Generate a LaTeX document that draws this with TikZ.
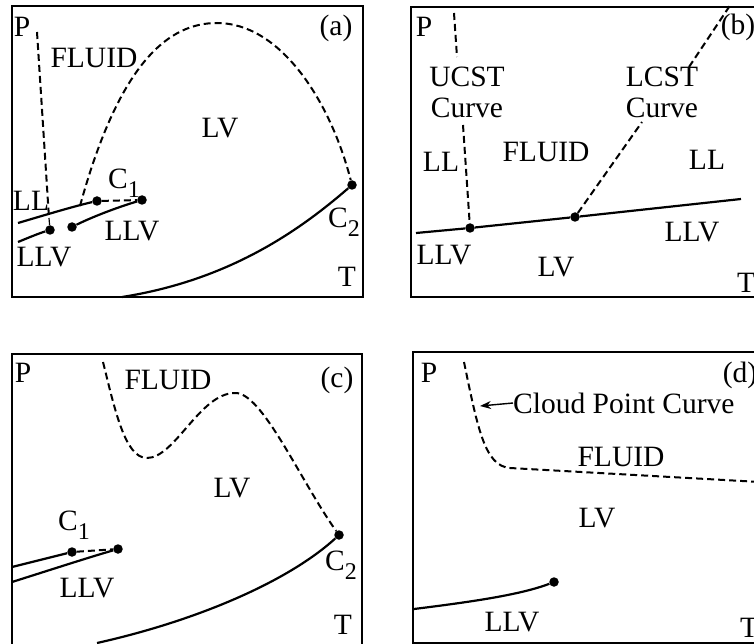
\documentclass[tikz,border=0pt]{standalone}
\usepackage{fontspec}
\setmainfont{Liberation Serif}
\usetikzlibrary{arrows.meta}

\tikzset{
  frame/.style={line width=2.4pt},
  curve/.style={line width=2.2pt},
  dashcurve/.style={line width=2pt, dash pattern=on 7pt off 4pt},
  lab/.style={font=\fontsize{29.5}{31}\selectfont, inner sep=0pt, align=center},
  dot/.style={circle, fill=black, inner sep=0pt, minimum size=9.5pt}
}
\newcommand{\sub}[1]{\raisebox{-9pt}{\fontsize{24}{24}\selectfont #1}}

\begin{document}
\begin{tikzpicture}[x=1pt,y=-1pt]
\useasboundingbox (0,0) rectangle (754,644);
\clip (0,0) rectangle (754,644);

% (a)
\draw[frame] (12,6) rectangle (363,297);
\node[lab] (Pa) at (22,27) {P};
\node[lab] (taga) at (336,28) {(a)};
\node[lab] (fluida) at (94,58) {FLUID};
\node[lab] (lva) at (220,128) {LV};
\node[lab] (lla) at (31,201) {LL};
\node[lab] (c1a) at (124,183) {C\sub{1}};
\node[lab] (llva) at (132,231) {LLV};
\node[lab] (llvb) at (44,257) {LLV};
\node[lab] (c2a) at (344,222) {C\sub{2}};
\node[lab] (Ta) at (347,277) {T};
\node[dot] (a1) at (97,201) {};
\node[dot] (a2) at (142,200) {};
\node[dot] (a3) at (72,227) {};
\node[dot] (a4) at (50,230) {};
\node[dot] (a5) at (352,185) {};
\coordinate (a6) at (49,218);
\coordinate (a7) at (80,206);
\draw[dashcurve] (37,32) -- (a6);
\draw[line width=1.2pt] (a6) -- (a4);
\draw[dashcurve] (a7) .. controls (120,60) and (170,23) .. (217,23)
   .. controls (280,23) and (330,100) .. (a5);
\draw[curve] (18,223) .. controls (45,215) and (75,206) .. (a1);
\draw[dashcurve] (a1) -- (a2);
\draw[curve] (a2) .. controls (115,208) and (90,218) .. (a3);
\draw[curve] (18,242) .. controls (30,237) and (40,233) .. (a4);
\draw[curve] (122,297) .. controls (230,280) and (300,230) .. (a5);

% (b)
\draw[frame] (760,7) -| (411,297) -- (760,297);
\node[lab] (Pb) at (424,27) {P};
\node[lab] (tagb) at (738,27) {(b)};
\node[lab] (ucst) at (467,92) {UCST\\Curve};
\node[lab] (lcst) at (662,92) {LCST\\Curve};
\node[lab] (llc) at (441,162) {LL};
\node[lab] (fluidb) at (546,152) {FLUID};
\node[lab] (lld) at (707,160) {LL};
\node[lab] (llvc) at (692,232) {LLV};
\node[lab] (llvd) at (444,255) {LLV};
\node[lab] (lvb) at (556,267) {LV};
\node[lab] (Tb) at (746,283) {T};
\node[dot] (b1) at (470,228) {};
\node[dot] (b2) at (575,217) {};
\coordinate (b3) at (416,233);
\coordinate (b4) at (741,199);
\draw[curve] (b3) -- (b1) -- (b2) -- (b4);
\draw[dashcurve] (454,13) -- (457,57);
\draw[dashcurve] (463,125) -- (b1);
\draw[dashcurve] (b2) -- (642,122);
\draw[dashcurve] (689,67) -- (731,4);

% (c)
\draw[frame] (12,650) |- (362,354) -- (362,650);
\node[lab] (Pc) at (23,373) {P};
\node[lab] (fluidc) at (168,380) {FLUID};
\node[lab] (tagc) at (337,380) {(c)};
\node[lab] (lvc) at (232,488) {LV};
\node[lab] (c1c) at (74,525) {C\sub{1}};
\node[lab] (llve) at (87,588) {LLV};
\node[lab] (c2c) at (341,565) {C\sub{2}};
\node[lab] (Tc) at (343,625) {T};
\node[dot] (c1) at (72,552) {};
\node[dot] (c2) at (118,549) {};
\node[dot] (c3) at (339,535) {};
\draw[dashcurve] (103,362) .. controls (115,410) and (125,458) .. (147,458)
   .. controls (175,458) and (200,393) .. (235,393)
   .. controls (262,392) and (300,480) .. (c3);
\draw[curve] (12,567) -- (c1);
\draw[dashcurve] (c1) -- (c2);
\draw[curve] (12,582) .. controls (50,570) and (90,557) .. (c2);
\draw[curve] (97,643) .. controls (200,620) and (290,580) .. (c3);

% (d)
\draw[frame] (760,352) -| (413,643) -- (760,643);
\node[lab] (Pd) at (429,373) {P};
\node[lab] (tagd) at (740,375) {(d)};
\node[lab, anchor=west] (cloud) at (513,403) {Cloud Point Curve};
\node[lab] (fluidd) at (621,457) {FLUID};
\node[lab] (lvd) at (597,518) {LV};
\node[lab] (llvf) at (512,622) {LLV};
\node[lab] (Td) at (749,628) {T};
\node[dot] (d1) at (554,582) {};
\coordinate (d2) at (480,406);
\draw[dashcurve] (464,362) .. controls (478,430) and (485,466) .. (510,468) -- (760,482);
\draw[line width=1.4pt, -{Stealth[length=11pt,width=8pt]}] (cloud.west) -- (d2);
\draw[curve] (414,609) .. controls (470,602) and (520,595) .. (d1);
\end{tikzpicture}
\end{document}
